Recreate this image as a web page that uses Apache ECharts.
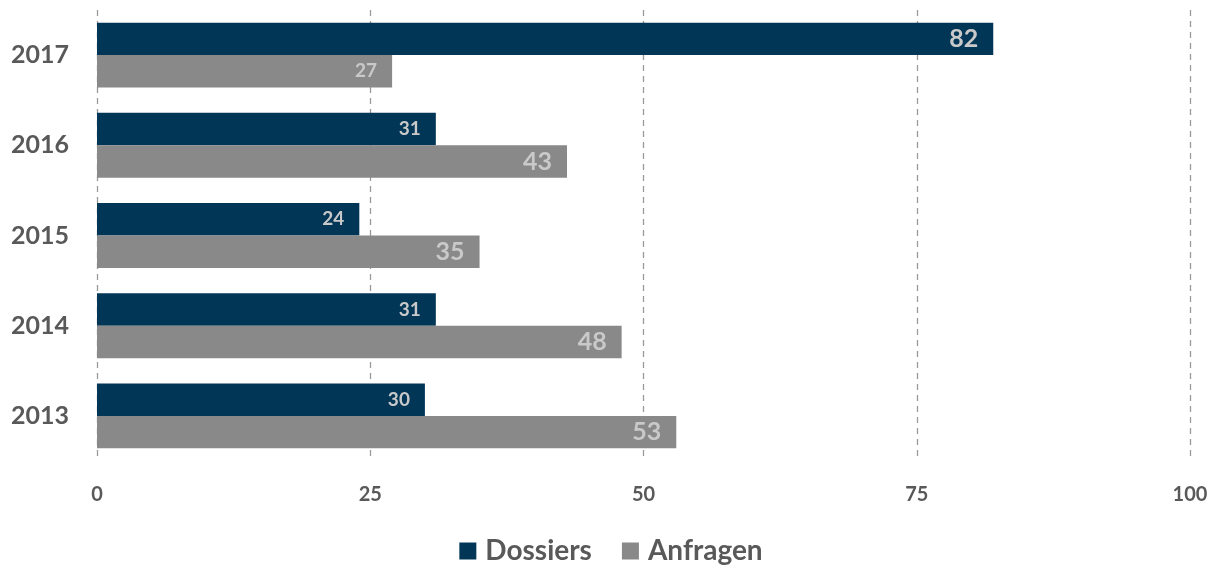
<!DOCTYPE html>
<html>
<head>
<meta charset="utf-8">
<script src="https://cdn.jsdelivr.net/npm/echarts@6/dist/echarts.min.js"></script>
<style>
html,body{margin:0;padding:0;background:#fff;}
#chart{width:1222px;height:573px;}
</style>
</head>
<body>
<div id="chart"></div>
<script>
// Jahre von oben nach unten
var years = ['2017', '2016', '2015', '2014', '2013'];
var dossiers = [82, 31, 24, 31, 30];
var anfragen = [27, 43, 35, 48, 53];
var xTicks = [0, 25, 50, 75, 100];

var fontFam = 'Lato, "Open Sans", sans-serif';
var txt = '#595959';
var lblColor = '#c9c9c9';

// Label size per bar (as in the original, not all equal)
var dossierLabelSize = [25, 19, 19, 19, 19];
var anfragenLabelSize = [19, 25, 25, 25, 25];

function items(vals, sizes) {
    return vals.map(function (v, i) {
        return { value: v, label: { fontSize: sizes[i] } };
    });
}

var mycharts = echarts.init(document.getElementById('chart'));
var option = {
    animation: false,
    textStyle: { fontFamily: fontFam },
    grid: { left: 97, right: 32, top: 10, bottom: 112, containLabel: false },
    legend: {
        data: ['Dossiers', 'Anfragen'],
        bottom: 3,
        left: 'center',
        itemWidth: 17,
        itemHeight: 17,
        itemGap: 30,
        icon: 'rect',
        textStyle: { color: txt, fontSize: 28, fontWeight: 'bold', fontFamily: fontFam, padding: [0, 0, 0, 4] }
    },
    xAxis: {
        type: 'value',
        min: 0,
        max: 100,
        interval: 25,
        axisLine: { show: false },
        axisTick: { show: false },
        axisLabel: {
            color: txt, fontSize: 20, fontWeight: 'bold', margin: 24,
            formatter: function (v) { return xTicks.indexOf(v) >= 0 ? String(v) : ''; }
        },
        splitLine: { show: true, lineStyle: { color: '#9a9a9a', type: [6, 5], width: 1.3 } }
    },
    yAxis: {
        type: 'category',
        data: years,
        inverse: true,
        axisLine: { show: false },
        axisTick: { show: false },
        axisLabel: { color: txt, fontSize: 25, fontWeight: 'bold', margin: 28 }
    },
    series: [
        {
            name: 'Dossiers',
            type: 'bar',
            barGap: '0%',
            barCategoryGap: '28%',
            itemStyle: { color: '#013657' },
            label: { show: true, position: 'insideRight', color: lblColor, fontWeight: 'bold', distance: 15 },
            data: items(dossiers, dossierLabelSize)
        },
        {
            name: 'Anfragen',
            type: 'bar',
            itemStyle: { color: '#898989' },
            label: { show: true, position: 'insideRight', color: lblColor, fontWeight: 'bold', distance: 15 },
            data: items(anfragen, anfragenLabelSize)
        }
    ]
};
mycharts.setOption(option, true);
window.addEventListener('resize', function () { mycharts.resize(); });
</script>
</body>
</html>
